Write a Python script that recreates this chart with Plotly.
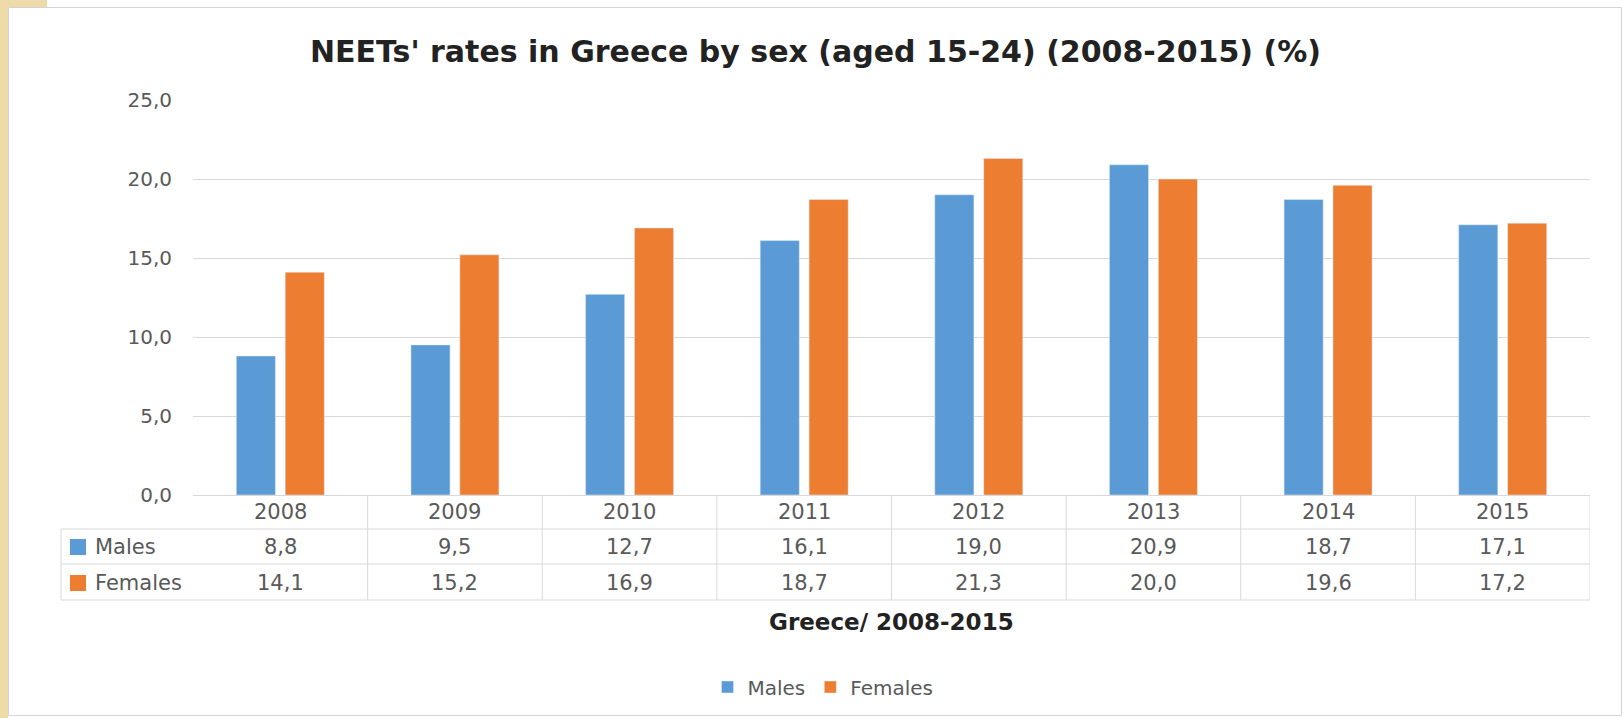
import plotly.graph_objects as go

years = ["2008", "2009", "2010", "2011", "2012", "2013", "2014", "2015"]
males = [8.8, 9.5, 12.7, 16.1, 19.0, 20.9, 18.7, 17.1]
females = [14.1, 15.2, 16.9, 18.7, 21.3, 20.0, 19.6, 17.2]
series_names = ["Males", "Females"]
y_ticks = [0, 5, 10, 15, 20, 25]

BLUE = "#5B9BD5"
ORANGE = "#ED7D31"
GRID = "#D9D9D9"
TXT = "#595959"
FONT = "DejaVu Sans"

W, H = 1623, 718
L, R, T, B = 193, 33, 100, 223
PW = W - L - R
PH = H - T - B


def px(xp):
    return (xp - L) / PW


def py(yp):
    return (H - B - yp) / PH


def fmt(v):
    return f"{v:.1f}".replace(".", ",")


fig = go.Figure()
fig.add_trace(go.Bar(x=years, y=males, name=series_names[0], marker_color=BLUE))
fig.add_trace(go.Bar(x=years, y=females, name=series_names[1], marker_color=ORANGE))

shapes = []
annotations = []

# frame / background
shapes.append(dict(type="rect", xref="paper", yref="paper", layer="below",
                   x0=px(0), x1=px(8), y0=py(0), y1=py(H), fillcolor="#EFDBAA", line_width=0))
shapes.append(dict(type="rect", xref="paper", yref="paper", layer="below",
                   x0=px(0), x1=px(47), y0=py(0), y1=py(7), fillcolor="#EFDBAA", line_width=0))
shapes.append(dict(type="rect", xref="paper", yref="paper", layer="below",
                   x0=px(8.5), x1=px(1621.5), y0=py(7.5), y1=py(715.5),
                   fillcolor="rgba(0,0,0,0)", line=dict(color="#D4D4D4", width=1)))

# data table lines
for yl in [529, 564, 600]:
    shapes.append(dict(type="line", xref="paper", yref="paper",
                       x0=px(61), x1=1, y0=py(yl), y1=py(yl), line=dict(color=GRID, width=1)))
shapes.append(dict(type="line", xref="paper", yref="paper",
                   x0=px(61), x1=px(61), y0=py(529), y1=py(600), line=dict(color=GRID, width=1)))
for i in range(len(years)):
    shapes.append(dict(type="line", xref="x", yref="paper",
                       x0=i + 0.5, x1=i + 0.5, y0=0, y1=py(600), line=dict(color=GRID, width=1)))

# row headers with colour keys
row_y = [547, 583]
for name, col, yy in zip(series_names, [BLUE, ORANGE], row_y):
    shapes.append(dict(type="rect", xref="paper", yref="paper",
                       x0=px(70), x1=px(86), y0=py(yy - 8), y1=py(yy + 8),
                       fillcolor=col, line_width=0))
    annotations.append(dict(text=name, xref="paper", yref="paper", x=px(93), y=py(yy),
                            xanchor="left", yanchor="middle", showarrow=False,
                            font=dict(family=FONT, size=21, color=TXT)))

# year header and values
for i, yr in enumerate(years):
    annotations.append(dict(text=yr, xref="x", yref="paper", x=i, y=py(512),
                            xanchor="center", yanchor="middle", showarrow=False,
                            font=dict(family=FONT, size=21, color=TXT)))
    for vals, yy in zip([males, females], row_y):
        annotations.append(dict(text=fmt(vals[i]), xref="x", yref="paper", x=i, y=py(yy),
                                xanchor="center", yanchor="middle", showarrow=False,
                                font=dict(family=FONT, size=21, color=TXT)))

# title and axis title
annotations.append(dict(text="<b>NEETs' rates in Greece by sex (aged 15-24) (2008-2015) (%)</b>",
                        xref="paper", yref="paper", x=px(815), y=py(51),
                        xanchor="center", yanchor="middle", showarrow=False,
                        font=dict(family=FONT, size=30, color="#222222")))
annotations.append(dict(text="<b>Greece/ 2008-2015</b>",
                        xref="paper", yref="paper", x=px(891), y=py(622),
                        xanchor="center", yanchor="middle", showarrow=False,
                        font=dict(family=FONT, size=23, color="#222222")))

fig.update_layout(
    width=W, height=H,
    margin=dict(l=L, r=R, t=T, b=B),
    paper_bgcolor="white", plot_bgcolor="white",
    barmode="group", bargap=0.44, bargroupgap=0.2,
    shapes=shapes, annotations=annotations,
    showlegend=True,
    legend=dict(orientation="h", x=px(823), xanchor="center", y=py(687), yanchor="middle",
                font=dict(family=FONT, size=20, color=TXT), itemwidth=30),
    xaxis=dict(type="category", range=[-0.5, len(years) - 0.5], showticklabels=False,
               showgrid=False, showline=False, ticks=""),
    yaxis=dict(range=[0, 25], tickvals=y_ticks, ticktext=[fmt(v) for v in y_ticks],
               showgrid=True, gridcolor=GRID, gridwidth=1, zeroline=True, zerolinecolor=GRID,
               zerolinewidth=1, ticks="", ticklabelstandoff=20,
               tickfont=dict(family=FONT, size=20, color=TXT)),
)

fig.write_html("out.html")
